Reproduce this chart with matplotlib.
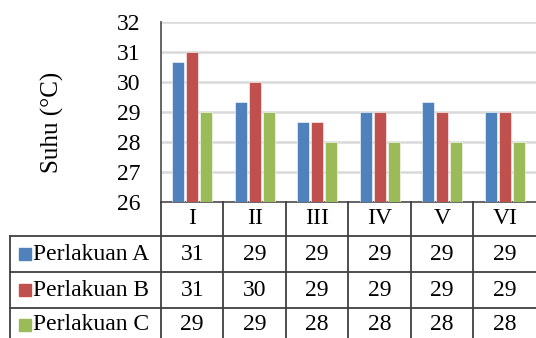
import numpy as np
import matplotlib
matplotlib.use('Agg')
import matplotlib.pyplot as plt

plt.rcParams['font.family'] = ['Liberation Serif', 'DejaVu Serif']

# Mean temperature per treatment and observation
categories = ['I', 'II', 'III', 'IV', 'V', 'VI']
series_names = ['Perlakuan A', 'Perlakuan B', 'Perlakuan C']
perlakuan_a = [30.67, 29.33, 28.67, 29.0, 29.33, 29.0]
perlakuan_b = [31.0, 30.0, 28.67, 29.0, 29.0, 29.0]
perlakuan_c = [29.0, 29.0, 28.0, 28.0, 28.0, 28.0]
series = [perlakuan_a, perlakuan_b, perlakuan_c]
colors = ['#4F81BD', '#C0504D', '#9BBB59']

W, H = 536, 338
FS = 17
fig = plt.figure(figsize=(W / 100, H / 100), dpi=100)

# Bar chart area
ax = fig.add_axes([161 / W, 136 / H, 375 / W, 180 / H])
x = np.arange(len(categories)) + 0.5
offsets = [-0.224, 0.0, 0.224]
for vals, off, col in zip(series, offsets, colors):
    ax.bar(x + off, np.array(vals) - 26, bottom=26, width=0.19, color=col,
           edgecolor='white', linewidth=0.4, zorder=3)

ax.set_xlim(0, len(categories))
ax.set_ylim(26, 32)
ax.set_yticks(range(26, 33))
ax.tick_params(axis='y', length=0, pad=15, labelsize=FS)
ax.set_xticks([])
ax.yaxis.grid(True, color='#d9d9d9', linewidth=1.8, zorder=0)
ax.set_axisbelow(True)
for s in ['top', 'right']:
    ax.spines[s].set_visible(False)
for s in ['left', 'bottom']:
    ax.spines[s].set_color('#595959')
    ax.spines[s].set_linewidth(1.3)
ax.set_ylabel('Suhu (°C)', fontsize=FS + 1)
ax.yaxis.label.set_va('center')
ax.yaxis.set_label_coords(-0.29, 0.44)

# Data table below the chart
col_w = 375 / len(categories)
label_w = 151 / col_w
tab = fig.add_axes([10 / W, 0, (W - 10) / W, 136 / H])
tab.set_xlim(-label_w, len(categories))
tab.set_ylim(136, 0)
tab.axis('off')

line_kw = dict(color='#404040', linewidth=1.3, clip_on=False)
row_lines = [34, 70, 106]
for yl in row_lines:
    tab.plot([-label_w, len(categories)], [yl, yl], **line_kw)
tab.plot([-label_w, -label_w], [34, 136], **line_kw)
for i in range(len(categories)):
    tab.plot([i, i], [0, 136], **line_kw)

for i, cat in enumerate(categories):
    tab.text(i + 0.5, 17, cat, ha='center', va='center', fontsize=FS)

row_centers = [52, 88, 123]
for name, vals, col, yc in zip(series_names, series, colors, row_centers):
    tab.plot(-label_w + 15 / col_w, yc, marker='s', markersize=8.5,
             color=col, linestyle='none', clip_on=False)
    tab.text(-label_w + 23 / col_w, yc, name, ha='left', va='center', fontsize=FS)
    for i, v in enumerate(vals):
        tab.text(i + 0.5, yc, f'{v:.0f}', ha='center', va='center', fontsize=FS)

fig.savefig('out.png', dpi=100)
